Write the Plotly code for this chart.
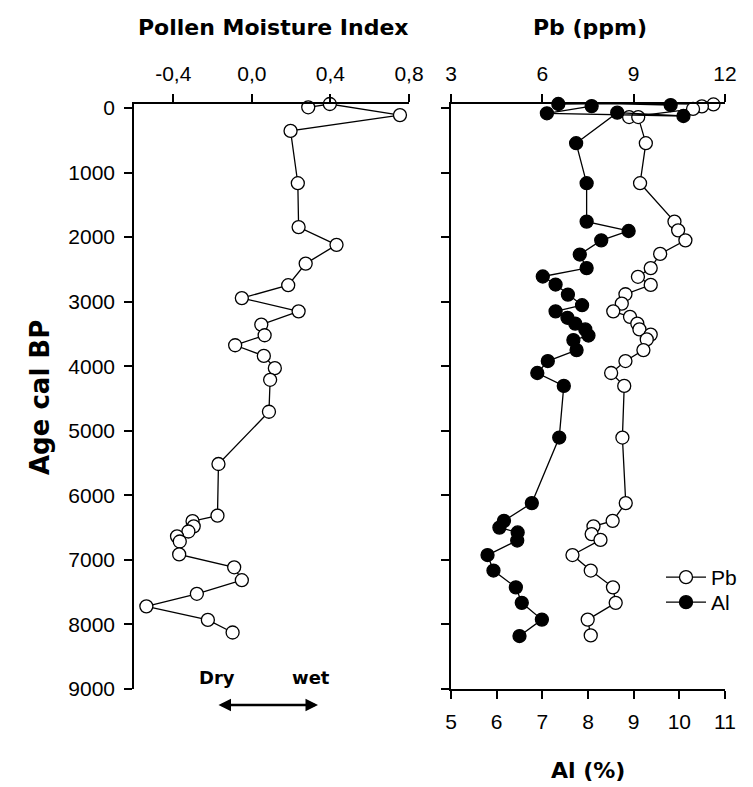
import plotly.graph_objects as go

# ---- Data ----
pmi_age = [-11, -62, 110, 355, 1165, 1845, 2120, 2410, 2745, 2945, 3150, 3355, 3520, 3675,
           3840, 4030, 4210, 4705, 5515, 6315, 6400, 6480, 6560, 6635, 6715, 6915, 7115,
           7315, 7525, 7720, 7930, 8125]
pmi = [0.287, 0.397, 0.754, 0.197, 0.234, 0.238, 0.431, 0.274, 0.185, -0.051, 0.238, 0.048,
       0.065, -0.085, 0.061, 0.117, 0.093, 0.087, -0.170, -0.175, -0.302, -0.296, -0.323,
       -0.381, -0.367, -0.370, -0.090, -0.051, -0.280, -0.537, -0.224, -0.098]

pb_age = [-65, -65, -55, -25, 15, 140, 140, 545, 1165, 1760, 1895, 2050, 2260, 2480, 2615,
          2740, 2885, 3030, 3150, 3235, 3340, 3430, 3510, 3585, 3750, 3920, 4105, 4305, 5105,
          6120, 6395, 6480, 6600, 6690, 6925, 7165, 7425, 7665, 7925, 8170]
pb = [10.41, 10.90, 11.62, 11.24, 10.95, 8.85, 9.15, 9.40, 9.21, 10.34, 10.46, 10.70, 9.87,
      9.56, 9.14, 9.56, 8.73, 8.61, 8.33, 8.88, 9.12, 9.19, 9.56, 9.43, 9.32, 8.73, 8.26,
      8.69, 8.63, 8.74, 8.31, 7.68, 7.62, 7.91, 6.99, 7.59, 8.32, 8.41, 7.49, 7.59]

al_age = [-62, -72, -46, -72, -30, 82, 124, 72, 545, 1165, 1760, 1905, 2050, 2270, 2480, 2610,
          2735, 2890, 3055, 3150, 3250, 3340, 3430, 3525, 3595, 3750, 3920, 4105, 4305, 5105,
          6120, 6395, 6500, 6575, 6700, 6925, 7165, 7425, 7665, 7925, 8180]
al = [7.35, 9.08, 9.81, 8.25, 8.08, 7.10, 10.09, 8.64, 7.74, 7.97, 7.97, 8.89, 8.29, 7.82,
      7.97, 7.01, 7.29, 7.56, 7.87, 7.29, 7.55, 7.72, 7.94, 8.01, 7.68, 7.75, 7.12, 6.89,
      7.47, 7.37, 6.77, 6.16, 6.06, 6.46, 6.45, 5.80, 5.93, 6.42, 6.55, 6.99, 6.50]

age_ticks = list(range(0, 9001, 1000))
pmi_ticks = [-0.4, 0.0, 0.4, 0.8]
pmi_ticktext = ["-0,4", "0,0", "0,4", "0,8"]
pb_ticks = [3, 6, 9, 12]
al_ticks = [5, 6, 7, 8, 9, 10, 11]

FONT = "Liberation Sans, Arial, sans-serif"
TFONT = "DejaVu Sans, Verdana, sans-serif"

# the page body has an 8px default margin; the figure is sized to fit the window
OFF = 8
W, H = 753 - OFF, 787 - OFF


def px(x):
    return (x - OFF) / W


def py(y):
    return 1 - (y - OFF) / H


fig = go.Figure()

mk = dict(size=13, line=dict(color="black", width=1.3))
fig.add_trace(go.Scatter(x=pmi, y=pmi_age, mode="lines+markers", xaxis="x", yaxis="y",
                         line=dict(color="black", width=1.3),
                         marker=dict(color="white", **mk), showlegend=False, cliponaxis=False))
fig.add_trace(go.Scatter(x=pb, y=pb_age, mode="lines+markers", xaxis="x2", yaxis="y2",
                         name="Pb", line=dict(color="black", width=1.3), legend="legend",
                         marker=dict(color="white", **mk), cliponaxis=False))
fig.add_trace(go.Scatter(x=al, y=al_age, mode="lines+markers", xaxis="x3", yaxis="y2",
                         name="Al", line=dict(color="black", width=1.3), legend="legend2",
                         marker=dict(color="black", **mk), cliponaxis=False))

ydom = [py(689), py(104)]
yrange = [9000, -62]
axcommon = dict(showgrid=False, zeroline=False, showline=True, linecolor="black", linewidth=1.5,
                ticks="outside", ticklen=8, tickwidth=1.5, tickcolor="black", automargin=False,
                ticklabelstandoff=5,
                tickfont=dict(family=FONT, size=21, color="black"))

legcommon = dict(xanchor="left", yanchor="top", bgcolor="rgba(0,0,0,0)", itemwidth=40,
                 font=dict(family=FONT, size=21, color="black"))

fig.update_layout(
    width=W, height=H, margin=dict(l=0, r=0, t=0, b=0),
    paper_bgcolor="white", plot_bgcolor="white",
    font=dict(family=FONT, color="black"),
    xaxis=dict(domain=[px(134), px(409)], anchor="y", side="top", range=[-0.6, 0.8],
               tickvals=pmi_ticks, ticktext=pmi_ticktext, **axcommon),
    yaxis=dict(domain=ydom, anchor="x", range=yrange, tickvals=age_ticks, **axcommon),
    xaxis2=dict(domain=[px(451), px(725)], anchor="y2", side="top", range=[3, 12],
                tickvals=pb_ticks, **axcommon),
    xaxis3=dict(domain=[px(451), px(725)], anchor="y2", side="bottom", overlaying="x2",
                range=[5, 11], tickvals=al_ticks, **axcommon),
    yaxis2=dict(domain=ydom, anchor="x2", range=yrange, tickvals=age_ticks,
                showticklabels=False, **axcommon),
    legend=dict(x=px(661), y=py(557), **legcommon),
    legend2=dict(x=px(661), y=py(582), **legcommon),
)

ann = [
    dict(text="<b>Pollen Moisture Index</b>", x=px(273), y=py(28), font=dict(size=22)),
    dict(text="<b>Pb (ppm)</b>", x=px(590), y=py(28), font=dict(size=22)),
    dict(text="<b>Al (%)</b>", x=px(588), y=py(770), font=dict(size=22)),
    dict(text="<b>Age cal BP</b>", x=px(40), y=py(398), font=dict(size=26), textangle=-90),
    dict(text="<b>Dry</b>", x=px(217), y=py(677), font=dict(size=18)),
    dict(text="<b>wet</b>", x=px(311), y=py(677), font=dict(size=18)),
]
for a in ann:
    a.update(xref="paper", yref="paper", showarrow=False, xanchor="center", yanchor="middle")
    a["font"].update(family=TFONT, color="black")
    fig.add_annotation(**a)

fig.add_annotation(xref="paper", yref="paper", x=px(318), y=py(705), ax=-101, ay=0,
                   text="", showarrow=True, arrowhead=2, arrowside="end+start",
                   arrowsize=1, arrowwidth=2.5, arrowcolor="black")

fig.write_html("out.html")
